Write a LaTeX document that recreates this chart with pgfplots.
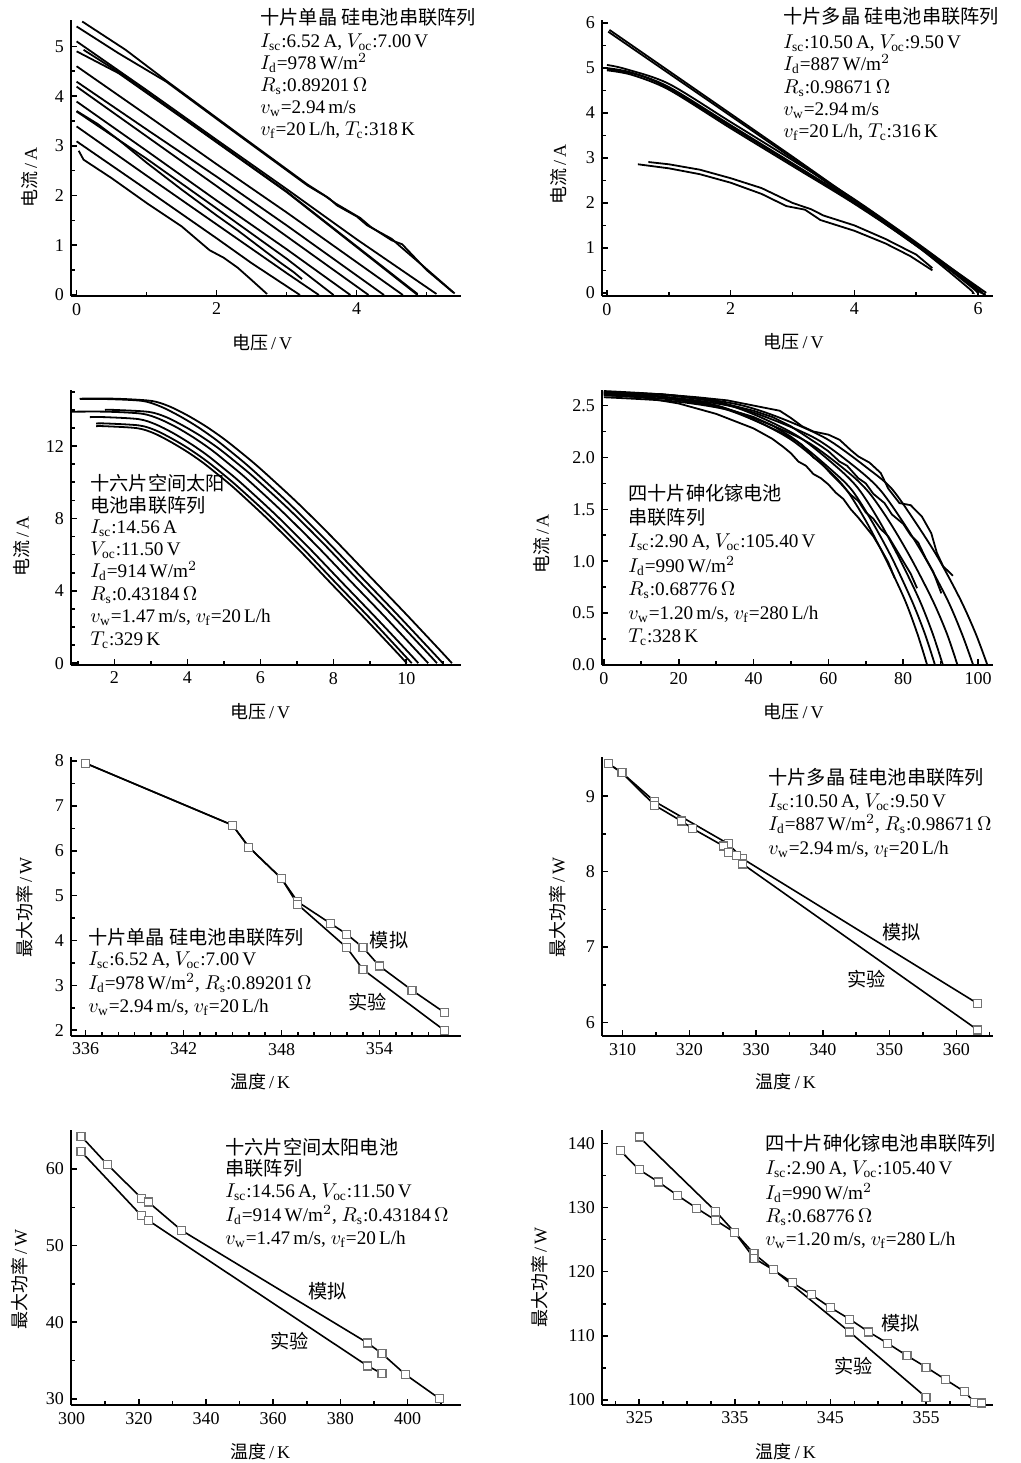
\documentclass[border=0pt]{standalone}
\usepackage{pgfplots}
\pgfplotsset{compat=1.18}
\usepackage{fontspec}
\setmainfont{Liberation Serif}
\newfontfamily\cjk{Noto Sans CJK SC}
\newcommand{\fs}{\fontsize{9}{10}\selectfont}
\newcommand{\fa}{\fontsize{9.6}{10}\selectfont}
\newcommand{\T}[3]{\node[anchor=base west, inner sep=0pt, font=\fa] at (#1pt,#2pt) {#3};}

\pgfplotsset{
 panel/.style={scale only axis, anchor=south west,
   axis x line*=bottom, axis y line*=left,
   axis line style={line width=0.8pt,-},
   tick align=inside, major tick length=3pt, minor tick length=1.8pt,
   tick style={line width=0.8pt, black},
   tick label style={font=\fs}, label style={font=\fs},
   /pgf/number format/assume math mode=true, clip=false},
 iv/.style={black, line width=0.9pt, no markers},
 pw/.style={black, line width=0.8pt, mark=square*, mark size=2pt,
   mark options={fill=white, draw=black!55, line width=0.6pt, solid}},
}

\begin{document}
\begin{tikzpicture}
\useasboundingbox (0,0) rectangle (510.5pt,731.5pt);

% ---------------- Panel 1 ----------------
\begin{axis}[panel, at={(35.5pt,583.5pt)}, width=195pt, height=138pt,
  xmin=-0.08, xmax=5.49, ymin=-0.02, ymax=5.53,
  xtick={0,2,4}, minor xtick={1,3,5},
  ytick={0,1,2,3,4,5}, minor ytick={0.5,1.5,2.5,3.5,4.5},
  xlabel={{\cjk 电压}\,/\,V}, ylabel={{\cjk 电流}\,/\,A},
  xlabel style={at={(axis description cs:0.49,-0.17)}, anchor=center},
  ylabel style={at={(axis description cs:-0.105,0.43)}, anchor=center}]
\addplot[iv] coordinates {(0.08,5.50)(0.7,4.93)(1.28,4.31)(2.3,3.25)(3.3,2.22)(3.6,1.95)(3.72,1.80)(4.0,1.58)(4.15,1.40)(4.5,1.13)(4.62,0.98)(5.0,0.52)(5.40,0.03)};
\addplot[iv] coordinates {(0,5.40)(0.6,4.86)(1.28,4.29)(2.3,3.23)(3.3,2.20)(3.55,1.99)(3.7,1.84)(4.05,1.55)(4.2,1.37)(4.5,1.10)(4.65,1.02)(5.0,0.50)(5.38,0.05)};
\addplot[iv] coordinates {(0,5.10)(1,4.12)(2,3.12)(3,2.13)(4,1.12)(5.14,0.02)};
\addplot[iv] coordinates {(0.1,4.93)(0.6,4.48)(1.5,3.58)(3,2.08)(4.87,0.02)};
\addplot[iv] coordinates {(0,4.90)(0.6,4.46)(1.5,3.57)(3,2.07)(4.87,0.0)};
\addplot[iv] coordinates {(0,4.60)(1,3.62)(2,2.63)(3,1.66)(4,0.66)(4.66,0.0)};
\addplot[iv] coordinates {(0,4.29)(1,3.33)(2,2.38)(3,1.40)(4.39,0.0)};
\addplot[iv] coordinates {(0,4.19)(1,3.19)(2,2.19)(3,1.18)(4.17,0.0)};
\addplot[iv] coordinates {(0,3.89)(1,2.90)(2,1.90)(3,0.92)(3.91,0.0)};
\addplot[iv] coordinates {(0,3.69)(1,2.74)(2,1.74)(3,0.73)(3.67,0.0)};
\addplot[iv] coordinates {(0,3.70)(0.3,3.44)(0.6,3.12)(1.0,2.66)(1.5,2.12)(2.0,1.60)(2.3,1.30)(2.6,0.98)(2.9,0.66)(3.1,0.46)(3.22,0.32)};
\addplot[iv] coordinates {(0,3.39)(1,2.40)(2,1.42)(3,0.44)(3.46,0.0)};
\addplot[iv] coordinates {(0,3.09)(1,2.12)(2,1.14)(2.5,0.64)(3.19,0.0)};
\addplot[iv] coordinates {(0.03,2.90)(0.1,2.72)(0.5,2.35)(1.0,1.85)(1.5,1.38)(1.9,0.90)(2.1,0.75)(2.3,0.55)(2.5,0.30)(2.72,0.02)};
\end{axis}
\T{130}{719}{\cjk 十片单晶 硅电池串联阵列}
\T{130}{707.5}{$I_{\mathrm{sc}}$:6.52\,A, $V_{\mathrm{oc}}$:7.00\,V}
\T{130}{696.5}{$I_{\mathrm d}$=978\,W/m$^2$}
\T{130}{685.5}{$R_{\mathrm s}$:0.89201\,$\Omega$}
\T{130}{674.5}{$v_{\mathrm w}$=2.94\,m/s}
\T{130}{663.5}{$v_{\mathrm f}$=20\,L/h, $T_{\mathrm c}$:318\,K}

% ---------------- Panel 2 ----------------
\begin{axis}[panel, at={(301pt,583.5pt)}, width=195.5pt, height=138pt,
  xmin=-0.08, xmax=6.24, ymin=-0.07, ymax=6.07,
  xtick={0,2,4,6}, minor xtick={1,3,5},
  ytick={0,1,2,3,4,5,6}, minor ytick={0.5,1.5,2.5,3.5,4.5,5.5},
  xlabel={{\cjk 电压}\,/\,V}, ylabel={{\cjk 电流}\,/\,A},
  xlabel style={at={(axis description cs:0.49,-0.166)}, anchor=center},
  ylabel style={at={(axis description cs:-0.11,0.44)}, anchor=center}]
\addplot[iv] coordinates {(0.04,5.85)(3,3.03)(6.13,0.0)};
\addplot[iv] coordinates {(0.02,5.81)(3,2.99)(6.08,0.0)};
\addplot[iv, smooth] coordinates {(0,5.07)(0.3,4.98)(1,4.65)(2,3.80)(3,2.95)(4,2.08)(5,1.12)(5.85,0.25)(6.05,0)};
\addplot[iv, smooth] coordinates {(0,5.00)(0.4,4.90)(1,4.58)(2,3.73)(3,2.88)(4,2.02)(5,1.08)(5.9,0.12)(5.98,0)};
\addplot[iv, smooth] coordinates {(0,4.95)(0.4,4.85)(1,4.52)(2,3.66)(3,2.82)(4,1.98)(5,1.05)(5.85,0.1)(5.9,0)};
\addplot[iv, smooth] coordinates {(0,4.98)(0.5,4.85)(1,4.55)(2,3.70)(3,2.86)(4,2.00)(5,1.08)(6.0,0.05)(6.1,0)};
\addplot[iv] coordinates {(0.67,2.91)(1,2.86)(1.5,2.74)(2,2.55)(2.5,2.33)(3,2.00)(3.3,1.86)(3.5,1.72)(4,1.50)(4.5,1.20)(5,0.85)(5.26,0.55)};
\addplot[iv] coordinates {(0.5,2.86)(1,2.77)(1.5,2.64)(2,2.45)(2.5,2.20)(2.9,1.93)(3.2,1.85)(3.45,1.62)(4,1.38)(4.5,1.10)(4.9,0.82)(5.26,0.50)};
\end{axis}
\T{391.5}{719.5}{\cjk 十片多晶 硅电池串联阵列}
\T{391.5}{707}{$I_{\mathrm{sc}}$:10.50\,A, $V_{\mathrm{oc}}$:9.50\,V}
\T{391.5}{696}{$I_{\mathrm d}$=887\,W/m$^2$}
\T{391.5}{684.5}{$R_{\mathrm s}$:0.98671\,$\Omega$}
\T{391.5}{673.5}{$v_{\mathrm w}$=2.94\,m/s}
\T{391.5}{662.5}{$v_{\mathrm f}$=20\,L/h, $T_{\mathrm c}$:316\,K}

% ---------------- Panel 3 ----------------
\begin{axis}[panel, at={(35.5pt,399pt)}, width=195pt, height=137.5pt,
  xmin=0.81, xmax=11.5, ymin=-0.1, ymax=15.1,
  xtick={2,4,6,8,10}, minor xtick={1,3,5,7,9,11},
  ytick={0,4,8,12}, minor ytick={1,2,3,5,6,7,9,10,11,13,14,15},
  xlabel={{\cjk 电压}\,/\,V}, ylabel={{\cjk 电流}\,/\,A},
  xlabel style={at={(axis description cs:0.485,-0.17)}, anchor=center},
  ylabel style={at={(axis description cs:-0.126,0.43)}, anchor=center}]
\addplot[iv, smooth] coordinates {(1.05,14.62)(2.0,14.62)(3.0,14.5)(3.5,14.2)(4.0,13.7)(4.5,13.1)(5.0,12.4)(5.5,11.6)(6.0,10.75)(7.0,8.9)(8.0,6.9)(9.0,4.8)(10.0,2.7)(11.0,0.55)(11.25,0)};
\addplot[iv, smooth] coordinates {(1.05,14.6)(1.75,14.6)(2.75,14.5)(3.25,14.2)(3.75,13.7)(4.25,13.1)(4.75,12.4)(5.25,11.6)(5.75,10.75)(6.75,8.9)(7.75,6.9)(8.75,4.8)(9.75,2.7)(10.75,0.55)(11.0,0)};
\addplot[iv, smooth] coordinates {(1.74,14.0)(1.98,14.0)(2.94,13.89)(3.42,13.6)(3.89,13.12)(4.37,12.55)(4.85,11.88)(5.33,11.11)(5.81,10.3)(6.77,8.53)(7.73,6.61)(8.68,4.6)(9.64,2.59)(10.6,0.53)(10.84,0)};
\addplot[iv, smooth] coordinates {(0.82,13.9)(1.8,13.9)(2.75,13.79)(3.23,13.5)(3.71,13.03)(4.18,12.46)(4.66,11.79)(5.13,11.03)(5.61,10.22)(6.56,8.46)(7.51,6.56)(8.46,4.56)(9.41,2.57)(10.36,0.52)(10.6,0)};
\addplot[iv, smooth] coordinates {(1.33,13.6)(1.73,13.6)(2.66,13.49)(3.12,13.21)(3.59,12.74)(4.05,12.18)(4.52,11.53)(4.98,10.79)(5.45,10.0)(6.38,8.28)(7.31,6.42)(8.24,4.46)(9.17,2.51)(10.1,0.51)(10.33,0)};
\addplot[iv, smooth] coordinates {(1.5,13.25)(1.77,13.25)(2.68,13.14)(3.13,12.87)(3.58,12.41)(4.03,11.87)(4.49,11.23)(4.94,10.51)(5.39,9.74)(6.3,8.06)(7.21,6.25)(8.11,4.35)(9.02,2.45)(9.92,0.5)(10.15,0)};
\addplot[iv, smooth] coordinates {(1.5,13.1)(1.72,13.1)(2.62,12.99)(3.07,12.72)(3.51,12.27)(3.96,11.73)(4.41,11.11)(4.86,10.39)(5.31,9.63)(6.2,7.97)(7.1,6.18)(7.99,4.3)(8.89,2.42)(9.79,0.49)(10.01,0)};
\end{axis}
\T{45}{486}{\cjk 十六片空间太阳}
\T{45}{475}{\cjk 电池串联阵列}
\T{45}{464.5}{$I_{\mathrm{sc}}$:14.56\,A}
\T{45}{453.5}{$V_{\mathrm{oc}}$:11.50\,V}
\T{45}{442.5}{$I_{\mathrm d}$=914\,W/m$^2$}
\T{45}{431}{$R_{\mathrm s}$:0.43184\,$\Omega$}
\T{45}{420}{$v_{\mathrm w}$=1.47\,m/s, $v_{\mathrm f}$=20\,L/h}
\T{45}{408.5}{$T_{\mathrm c}$:329\,K}

% ---------------- Panel 4 ----------------
\begin{axis}[panel, at={(301pt,399pt)}, width=195.5pt, height=137.5pt,
  xmin=-0.5, xmax=104, ymin=0, ymax=2.65,
  xtick={0,20,40,60,80,100}, minor xtick={10,30,50,70,90},
  ytick={0,0.5,1,1.5,2,2.5}, minor ytick={0.25,0.75,1.25,1.75,2.25},
  yticklabel style={/pgf/number format/.cd, fixed, fixed zerofill, precision=1},
  xlabel={{\cjk 电压}\,/\,V}, ylabel={{\cjk 电流}\,/\,A},
  xlabel style={at={(axis description cs:0.49,-0.17)}, anchor=center},
  ylabel style={at={(axis description cs:-0.154,0.44)}, anchor=center}]
\addplot[iv, smooth] coordinates {(0,2.62)(17.3,2.58)(30.2,2.50)(39.7,2.37)(50.1,2.17)(59.6,1.89)(64.8,1.69)(70.0,1.39)(75.2,1.03)(80.4,0.63)(83.8,0.30)(86.4,0)};
\addplot[iv, smooth] coordinates {(0,2.60)(17.7,2.56)(31.0,2.48)(40.7,2.35)(51.3,2.16)(61.1,1.87)(66.4,1.68)(71.7,1.38)(77.0,1.03)(82.3,0.62)(85.8,0.30)(88.5,0)};
\addplot[iv, smooth] coordinates {(0,2.64)(18.1,2.60)(31.7,2.52)(41.7,2.39)(52.5,2.19)(62.5,1.90)(68.0,1.70)(73.4,1.40)(78.8,1.04)(84.3,0.63)(87.9,0.30)(90.6,0)};
\addplot[iv, smooth] coordinates {(0,2.58)(18.9,2.54)(33.1,2.46)(43.5,2.33)(54.8,2.14)(65.2,1.86)(70.9,1.66)(76.5,1.37)(82.2,1.02)(87.9,0.62)(91.7,0.30)(94.5,0)};
\addplot[iv, smooth] coordinates {(0,2.61)(19.7,2.57)(34.5,2.49)(45.4,2.36)(57.2,2.17)(68.1,1.88)(74.0,1.68)(79.9,1.38)(85.9,1.03)(91.8,0.63)(95.7,0.30)(98.7,0)};
\addplot[iv, smooth] coordinates {(0,2.63)(20.5,2.59)(35.9,2.51)(47.2,2.38)(59.5,2.18)(70.7,1.89)(76.9,1.70)(83.0,1.39)(89.2,1.04)(95.3,0.63)(99.4,0.30)(102.5,0)};
\addplot[iv] coordinates {(0,2.60)(10,2.58)(20,2.52)(30,2.42)(40,2.28)(45,2.18)(48,2.10)(50,2.04)(52,1.96)(54,1.92)(56,1.84)(58,1.80)(60,1.74)(62,1.66)(64,1.60)(66,1.50)(68,1.42)(70,1.33)(72,1.24)(74,1.12)(76,0.99)(77.7,0.84)};
\addplot[iv] coordinates {(0,2.61)(15,2.59)(30,2.50)(40,2.39)(45,2.31)(50,2.20)(53,2.12)(56,2.00)(58,1.95)(61,1.83)(63,1.76)(66,1.64)(68,1.58)(70,1.47)(72,1.41)(74,1.31)(76,1.24)(78,1.12)(80,1.00)(82,0.88)(83.7,0.74)};
\addplot[iv] coordinates {(0,2.63)(15,2.61)(30,2.54)(40,2.45)(45,2.39)(50,2.30)(55,2.18)(58,2.11)(60,2.06)(63,1.96)(65,1.92)(68,1.80)(70,1.75)(72,1.65)(75,1.56)(77,1.45)(80,1.36)(82,1.25)(84,1.18)(86,1.03)(88,0.90)(90.2,0.69)};
\addplot[iv] coordinates {(0,2.62)(15,2.61)(25,2.58)(33,2.55)(40,2.50)(47,2.45)(50,2.38)(53,2.30)(56,2.25)(60,2.22)(63,2.17)(66,2.07)(68,2.01)(71,1.95)(74,1.85)(76,1.70)(79,1.56)(82,1.54)(85,1.43)(87.5,1.27)(89,1.08)(90.7,0.95)(93.3,0.86)};
\end{axis}
\T{314}{481}{\cjk 四十片砷化镓电池}
\T{314}{469.3}{\cjk 串联阵列}
\T{314}{457.7}{$I_{\mathrm{sc}}$:2.90\,A, $V_{\mathrm{oc}}$:105.40\,V}
\T{314}{445.2}{$I_{\mathrm d}$=990\,W/m$^2$}
\T{314}{433.5}{$R_{\mathrm s}$:0.68776\,$\Omega$}
\T{314}{421.8}{$v_{\mathrm w}$=1.20\,m/s, $v_{\mathrm f}$=280\,L/h}
\T{314}{410.2}{$T_{\mathrm c}$:328\,K}

% ---------------- Panel 5 ----------------
\begin{axis}[panel, at={(35.5pt,213.5pt)}, width=195pt, height=139.5pt,
  xmin=335.1, xmax=359, ymin=1.87, ymax=8.09,
  xtick={336,342,348,354}, minor xtick={337,338,339,340,341,343,344,345,346,347,349,350,351,352,353,355,356,357,358},
  ytick={2,3,4,5,6,7,8}, minor ytick={2.5,3.5,4.5,5.5,6.5,7.5},
  xlabel={{\cjk 温度}\,/\,K}, ylabel={{\cjk 最大功率}\,/\,W},
  xlabel style={at={(axis description cs:0.485,-0.164)}, anchor=center},
  ylabel style={at={(axis description cs:-0.118,0.46)}, anchor=center}]
\addplot[pw] coordinates {(336,7.95)(345,6.57)(346,6.08)(348,5.38)(349,4.86)(351,4.38)(352,4.14)(353,3.84)(354,3.43)(356,2.89)(358,2.39)};
\addplot[pw] coordinates {(336,7.95)(345,6.57)(346,6.08)(348,5.38)(349,4.80)(352,3.84)(353,3.35)(358,1.99)};
\node[font=\fa\cjk] at (axis cs:354.6,4.0) {模拟};
\node[font=\fa\cjk] at (axis cs:353.3,2.63) {实验};
\end{axis}
\T{44}{259.3}{\cjk 十片单晶 硅电池串联阵列}
\T{44}{248.5}{$I_{\mathrm{sc}}$:6.52\,A, $V_{\mathrm{oc}}$:7.00\,V}
\T{44}{236.8}{$I_{\mathrm d}$=978\,W/m$^2$, $R_{\mathrm s}$:0.89201\,$\Omega$}
\T{44}{225.2}{$v_{\mathrm w}$=2.94\,m/s, $v_{\mathrm f}$=20\,L/h}

% ---------------- Panel 6 ----------------
\begin{axis}[panel, at={(301pt,213.5pt)}, width=195.5pt, height=139.5pt,
  xmin=306.9, xmax=365.5, ymin=5.82, ymax=9.52,
  xtick={310,320,330,340,350,360}, minor xtick={315,325,335,345,355,365},
  ytick={6,7,8,9}, minor ytick={6.5,7.5,8.5},
  xlabel={{\cjk 温度}\,/\,K}, ylabel={{\cjk 最大功率}\,/\,W},
  xlabel style={at={(axis description cs:0.47,-0.164)}, anchor=center},
  ylabel style={at={(axis description cs:-0.113,0.46)}, anchor=center}]
\addplot[pw] coordinates {(307.9,9.43)(309.9,9.31)(314.8,8.93)(325.8,8.37)(328,8.17)(363.2,6.25)};
\addplot[pw] coordinates {(307.9,9.43)(309.9,9.31)(314.8,8.88)(318.8,8.67)(320.5,8.57)(325.1,8.34)(325.8,8.25)(327.1,8.21)(328,8.10)(363.2,5.90)};
\node[font=\fa\cjk] at (axis cs:351.8,7.2) {模拟};
\node[font=\fa\cjk] at (axis cs:346.5,6.58) {实验};
\end{axis}
\T{384}{339.3}{\cjk 十片多晶 硅电池串联阵列}
\T{384}{327.7}{$I_{\mathrm{sc}}$:10.50\,A, $V_{\mathrm{oc}}$:9.50\,V}
\T{384}{316}{$I_{\mathrm d}$=887\,W/m$^2$, $R_{\mathrm s}$:0.98671\,$\Omega$}
\T{384}{304.3}{$v_{\mathrm w}$=2.94\,m/s, $v_{\mathrm f}$=20\,L/h}

% ---------------- Panel 7 ----------------
\begin{axis}[panel, at={(35.5pt,29pt)}, width=195pt, height=137.5pt,
  xmin=299.8, xmax=415.9, ymin=29.2, ymax=65.1,
  xtick={300,320,340,360,380,400}, minor xtick={310,330,350,370,390,410},
  ytick={30,40,50,60}, minor ytick={35,45,55},
  xlabel={{\cjk 温度}\,/\,K}, ylabel={{\cjk 最大功率}\,/\,W},
  xlabel style={at={(axis description cs:0.485,-0.17)}, anchor=center},
  ylabel style={at={(axis description cs:-0.131,0.455)}, anchor=center}]
\addplot[pw] coordinates {(302.8,64.3)(310.6,60.6)(320.8,56.2)(322.8,55.7)(332.7,52.0)(388.1,37.3)(392.4,35.9)(399.3,33.2)(409.6,30.0)};
\addplot[pw] coordinates {(302.8,62.3)(320.8,53.9)(322.8,53.3)(388.1,34.3)(392.4,33.3)};
\node[font=\fa\cjk] at (axis cs:376.2,44.0) {模拟};
\node[font=\fa\cjk] at (axis cs:364.9,37.5) {实验};
\end{axis}
\T{112.5}{154.3}{\cjk 十六片空间太阳电池}
\T{112.5}{143.8}{\cjk 串联阵列}
\T{112.5}{132.7}{$I_{\mathrm{sc}}$:14.56\,A, $V_{\mathrm{oc}}$:11.50\,V}
\T{112.5}{120.5}{$I_{\mathrm d}$=914\,W/m$^2$, $R_{\mathrm s}$:0.43184\,$\Omega$}
\T{112.5}{109.3}{$v_{\mathrm w}$=1.47\,m/s, $v_{\mathrm f}$=20\,L/h}

% ---------------- Panel 8 ----------------
\begin{axis}[panel, at={(301pt,29pt)}, width=195.5pt, height=137.5pt,
  xmin=321.1, xmax=362, ymin=99.2, ymax=142.1,
  xtick={325,335,345,355}, minor xtick={322.5,327.5,330,332.5,337.5,340,342.5,347.5,350,352.5,357.5,360},
  ytick={100,110,120,130,140}, minor ytick={105,115,125,135},
  xlabel={{\cjk 温度}\,/\,K}, ylabel={{\cjk 最大功率}\,/\,W},
  xlabel style={at={(axis description cs:0.47,-0.17)}, anchor=center},
  ylabel style={at={(axis description cs:-0.159,0.465)}, anchor=center}]
\addplot[pw] coordinates {(325,141.0)(333,129.4)(335,126.1)(337,122.8)(347,110.6)(355,100.4)};
\addplot[pw] coordinates {(323,138.9)(325,135.9)(327,134.0)(329,131.9)(331,129.9)(333,128.0)(335,126.1)(337,122.1)(339,120.3)(341,118.3)(343,116.4)(345,114.4)(347,112.6)(349,110.6)(351,108.8)(353,106.9)(355,105.1)(357,103.2)(359,101.3)(360.1,99.6)(360.8,99.5)};
\node[font=\fa\cjk] at (axis cs:352.3,111.9) {模拟};
\node[font=\fa\cjk] at (axis cs:347.4,105.2) {实验};
\end{axis}
\T{382.5}{156}{\cjk 四十片砷化镓电池串联阵列}
\T{382.5}{144.3}{$I_{\mathrm{sc}}$:2.90\,A, $V_{\mathrm{oc}}$:105.40\,V}
\T{382.5}{131.8}{$I_{\mathrm d}$=990\,W/m$^2$}
\T{382.5}{120.2}{$R_{\mathrm s}$:0.68776\,$\Omega$}
\T{382.5}{108.8}{$v_{\mathrm w}$=1.20\,m/s, $v_{\mathrm f}$=280\,L/h}
\end{tikzpicture}
\end{document}
